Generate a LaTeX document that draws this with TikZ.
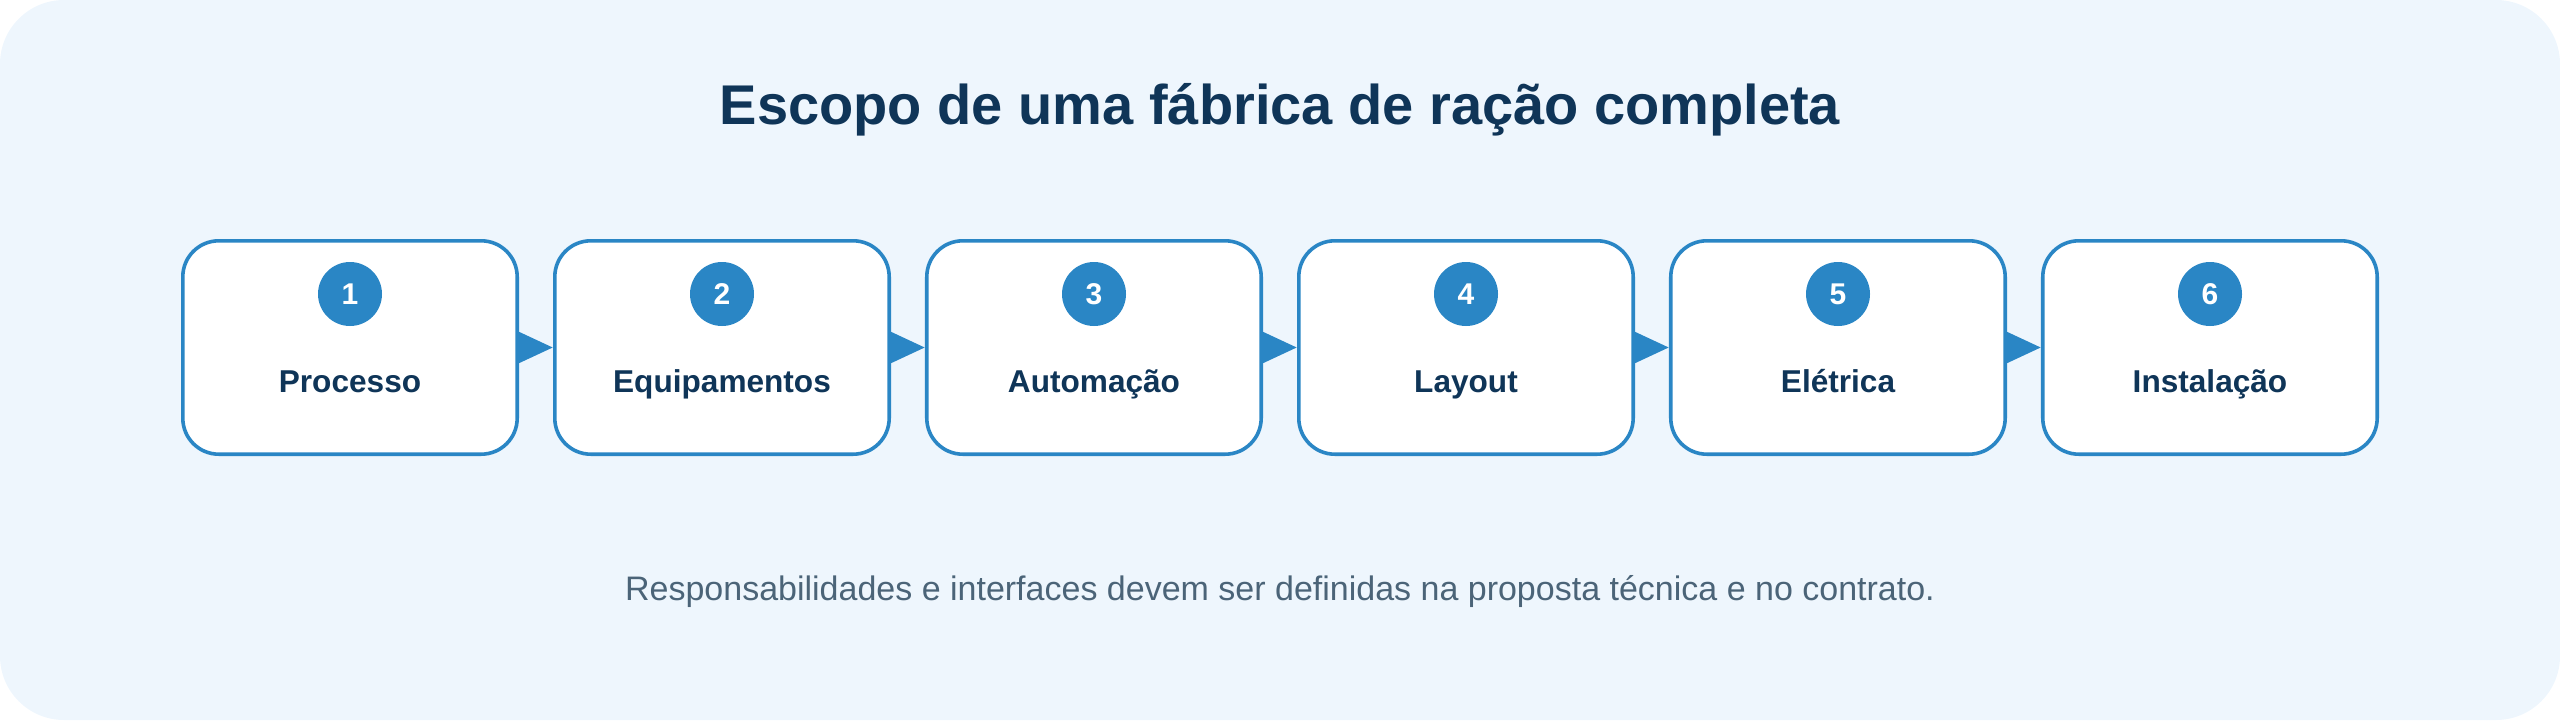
\documentclass[tikz,border=0pt]{standalone}
\usepackage{fontspec}
\setmainfont{Liberation Sans}
\usetikzlibrary{arrows.meta,positioning}
\definecolor{panel}{HTML}{EEF6FD}
\definecolor{stroke}{HTML}{2A86C5}
\definecolor{ink}{HTML}{0F3558}
\definecolor{note}{HTML}{4B6478}

\begin{document}
\begin{tikzpicture}[x=1pt,y=1pt]
\tikzstyle{stage} = [rectangle, draw=stroke, line width=0.9pt, fill=white,
rounded corners=9pt, minimum width=83.6pt, minimum height=53.35pt, outer sep=0pt]
\tikzstyle{badge} = [circle, fill=stroke, text=white, minimum size=16pt, inner sep=0pt,
font=\fontsize{7.5}{9}\selectfont\bfseries]
\tikzstyle{stagetext} = [anchor=base, text=ink, font=\fontsize{7.9}{9}\selectfont\bfseries]
\tikzstyle{flow} = [draw=stroke, line width=0.9pt, -{Triangle[length=8.6pt,width=7.75pt]}, shorten >=0.5pt]

% panel
\useasboundingbox (0,0) rectangle (640,180);
\fill[panel, rounded corners=16pt] (0,0) rectangle (640,180);

\node[stagetext, font=\fontsize{14}{16}\selectfont\bfseries] (title) at (320,149)
  {Escopo de uma fábrica de ração completa};

\matrix [column sep=8.5pt] (chain) at (320,93.125)
{
% row 1
\node [stage] (p1) {}; & \node [stage] (p2) {}; & \node [stage] (p3) {}; &
\node [stage] (p4) {}; & \node [stage] (p5) {}; & \node [stage] (p6) {}; \\
};

\node [badge, below=5.1pt of p1.north] (n1) {1};
\node [badge, below=5.1pt of p2.north] (n2) {2};
\node [badge, below=5.1pt of p3.north] (n3) {3};
\node [badge, below=5.1pt of p4.north] (n4) {4};
\node [badge, below=5.1pt of p5.north] (n5) {5};
\node [badge, below=5.1pt of p6.north] (n6) {6};

\node [stagetext] (t1) at ([yshift=-11.125pt]p1.center) {Processo};
\node [stagetext] (t2) at ([yshift=-11.125pt]p2.center) {Equipamentos};
\node [stagetext] (t3) at ([yshift=-11.125pt]p3.center) {Automação};
\node [stagetext] (t4) at ([yshift=-11.125pt]p4.center) {Layout};
\node [stagetext] (t5) at ([yshift=-11.125pt]p5.center) {Elétrica};
\node [stagetext] (t6) at ([yshift=-11.125pt]p6.center) {Instalação};

\path [flow] (p1.east) -- (p2.west);
\path [flow] (p2.east) -- (p3.west);
\path [flow] (p3.east) -- (p4.west);
\path [flow] (p4.east) -- (p5.west);
\path [flow] (p5.east) -- (p6.west);

\node [anchor=base, text=note, font=\fontsize{8.5}{10}\selectfont] (remark) at (320,30)
  {Responsabilidades e interfaces devem ser definidas na proposta técnica e no contrato.};
\end{tikzpicture}
\end{document}
